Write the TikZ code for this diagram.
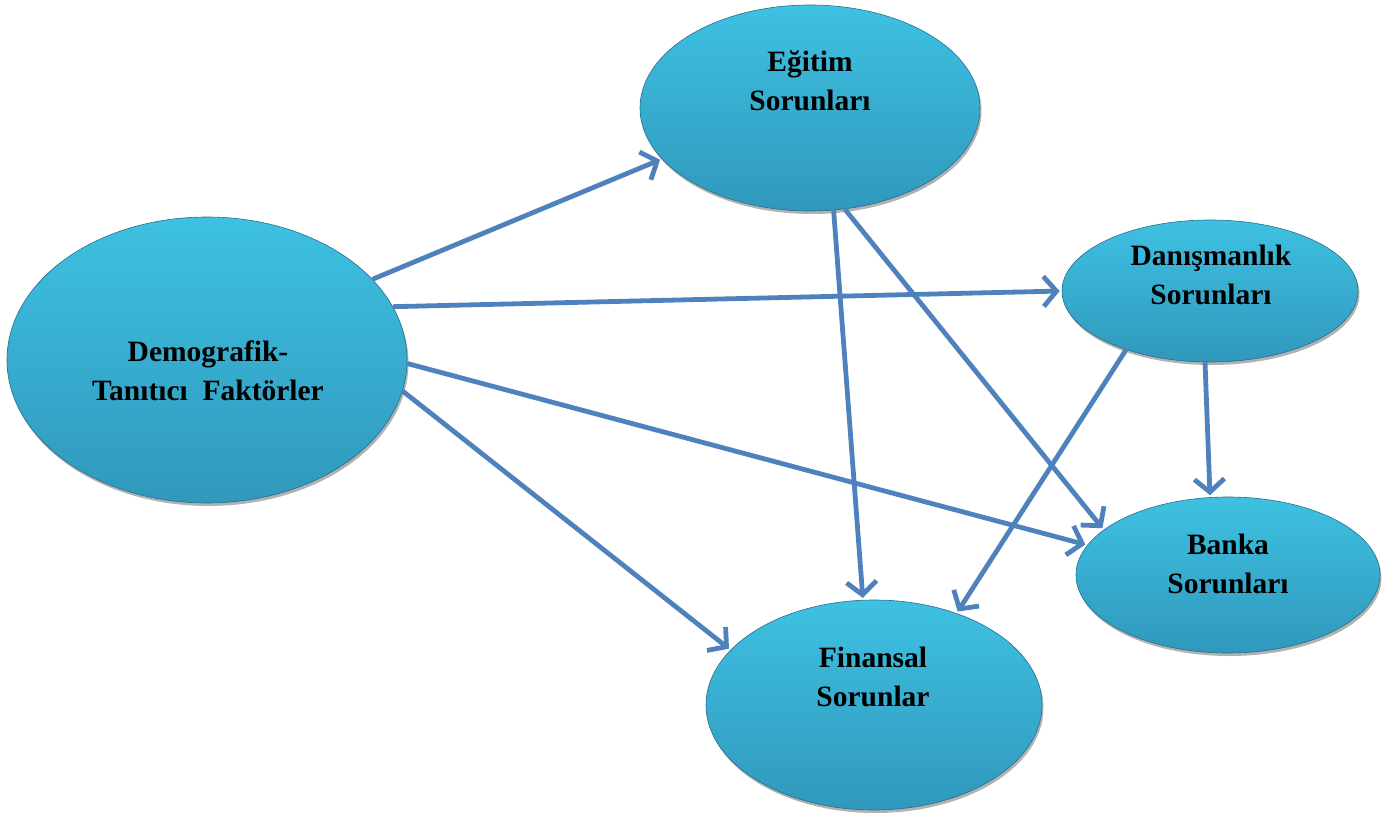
\documentclass[tikz,border=0pt]{standalone}
\usepackage{fontspec}
\setmainfont{Liberation Serif}
\usetikzlibrary{shapes.geometric,arrows.meta,shadows}
\definecolor{arrowblue}{RGB}{79,129,189}
\definecolor{topcyan}{RGB}{62,193,226}
\definecolor{botcyan}{RGB}{48,152,188}
\definecolor{edgecol}{RGB}{40,110,140}
\tikzset{
  bubble/.style={ellipse, inner sep=0pt, top color=topcyan, bottom color=botcyan,
    draw=edgecol, line width=0.6pt,
    drop shadow={shadow xshift=1.5pt, shadow yshift=-3pt, opacity=0.3, fill=black}},
  label/.style={font=\fontsize{29.5}{39}\selectfont\bfseries, align=center, text=black},
  conn/.style={draw=arrowblue, line width=4.8pt,
    -{Straight Barb[length=13pt, width=30pt, line width=4.8pt]}, shorten >=2pt}
}
\begin{document}
\begin{tikzpicture}[x=1pt, y=-1pt]
\useasboundingbox (0,0) rectangle (1398,818);
% ellipses
\node[bubble, minimum width=340pt, minimum height=206pt] (edu) at (810,108) {};
\node[bubble, minimum width=400pt, minimum height=286pt] (dem) at (207,360) {};
\node[bubble, minimum width=296pt, minimum height=142pt] (dan) at (1210,291) {};
\node[bubble, minimum width=304pt, minimum height=156pt] (ban) at (1228,575) {};
\node[bubble, minimum width=336pt, minimum height=210pt] (fin) at (874,705) {};
% labels
\node[label] (edut) at (810,81) {Eğitim\\Sorunları};
\node[label] (demt) at (208,371) {Demografik-\\Tanıtıcı\ \ Faktörler};
\node[label] (dant) at (1211,275) {Danışmanlık\\Sorunları};
\node[label] (bant) at (1228,564) {Banka\\Sorunları};
\node[label] (fint) at (873,677) {Finansal\\Sorunlar};
% connectors
\draw[conn] (dem.26.7) -- (edu.199);
\draw[conn] (dem.16.6) -- (dan.180.4);
\draw[conn] (dem.-1.4) -- (ban.168.5);
\draw[conn] (dem.-9.4) -- (fin.159);
\draw[conn] (edu.-77.8) -- (fin.96);
\draw[conn] (edu.-71.7) -- (ban.160.3);
\draw[conn] (dan.215.3) -- (fin.48.2);
\draw[conn] (dan.266.8) -- (ban.103.7);
\end{tikzpicture}
\end{document}
